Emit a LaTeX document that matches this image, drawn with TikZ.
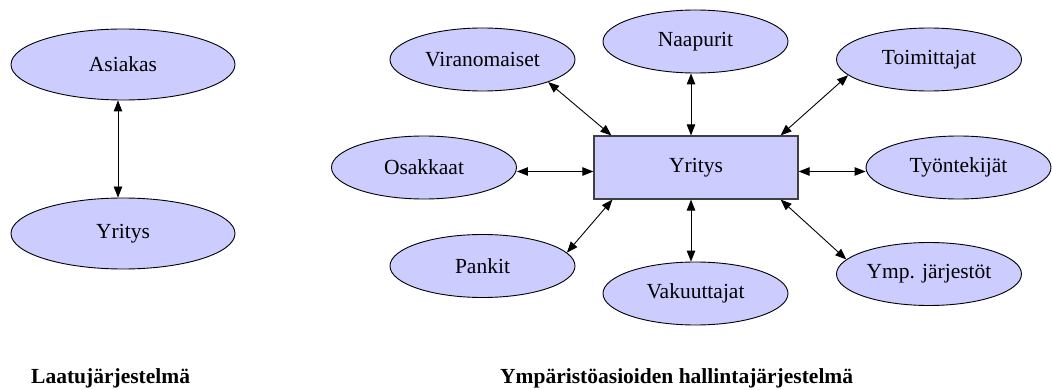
\documentclass[tikz,border=0pt]{standalone}
\usepackage{fontspec}
\setmainfont{Liberation Serif}
\usetikzlibrary{shapes.geometric,arrows.meta}
\definecolor{nodefill}{HTML}{CCCCFF}
\definecolor{boxline}{HTML}{404040}
\tikzset{
  ell/.style={ellipse, draw=black, line width=0.9pt, fill=nodefill, inner sep=0pt,
    minimum width=185pt, minimum height=63pt, font=\fontsize{21.5}{24}\selectfont},
  bigell/.style={ell, minimum width=224pt, minimum height=71pt},
  centerbox/.style={rectangle, draw=boxline, line width=1.2pt, fill=nodefill, inner sep=0pt,
    minimum width=204pt, minimum height=63pt, font=\fontsize{21.5}{24}\selectfont},
  link/.style={line width=0.9pt, {Triangle[length=11pt,width=8.5pt]}-{Triangle[length=11pt,width=8.5pt]}},
  caption/.style={anchor=base west, inner sep=0pt, font=\fontsize{21.5}{24}\selectfont\bfseries}
}
\begin{document}
\begin{tikzpicture}[x=1pt,y=-1pt]
\path[use as bounding box, fill=white] (0,0) rectangle (1052,390);

% left diagram
\node[bigell] (asi) at (123,64.5) {Asiakas};
\node[bigell] (yri) at (123,233.5) {Yritys};
\draw[link] ([xshift=-5pt]asi.south) -- ([xshift=-5pt]yri.north);

% right diagram
\node[centerbox] (box) at (696,167.5) {Yritys};
\node[ell] (vir) at (482.5,59.5) {Viranomaiset};
\node[ell] (naap) at (695.5,41.5) {Naapurit};
\node[ell] (toim) at (929,59.5) {Toimittajat};
\node[ell] (osak) at (424,167.5) {Osakkaat};
\node[ell] (tyon) at (958.5,167.5) {Työntekijät};
\node[ell] (pank) at (482.5,266) {Pankit};
\node[ell] (vaku) at (695.5,293.5) {Vakuuttajat};
\node[ell] (ymp) at (929,274) {Ymp. järjestöt};

\draw[link] (vir.-19) -- ([xshift=18pt]box.north west);
\draw[link] ([xshift=-4.5pt]naap.south) -- ([xshift=-5pt]box.north);
\draw[link] (toim.191) -- ([xshift=-18pt]box.north east);
\draw[link] ([yshift=-4pt]osak.east) -- ([yshift=-4pt]box.west);
\draw[link] ([yshift=-4pt]box.east) -- ([yshift=-4pt]tyon.west);
\draw[link] (pank.9) -- ([xshift=19pt]box.south west);
\draw[link] ([xshift=-5pt]box.south) -- ([xshift=-4.5pt]vaku.north);
\draw[link] ([xshift=-18pt]box.south east) -- (ymp.170);

% captions
\node[caption] (cap1) at (31,383) {Laatujärjestelmä};
\node[caption] (cap2) at (500,383) {Ympäristöasioiden hallintajärjestelmä};
\end{tikzpicture}
\end{document}
